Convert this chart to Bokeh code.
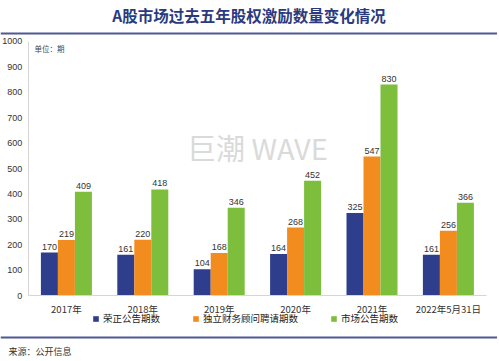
from bokeh.plotting import figure
from bokeh.models import (ColumnDataSource, Range1d, Label,
                          Legend, LegendItem, FixedTicker)
from bokeh.transform import dodge
from bokeh.core.properties import value
from bokeh.embed import file_html
from bokeh.resources import INLINE

years = ["2017年", "2018年", "2019年", "2020年", "2021年", "2022年5月31日"]
rongzheng = [170, 161, 104, 164, 325, 161]
duli = [219, 220, 168, 268, 547, 256]
shichang = [409, 418, 346, 452, 830, 366]
series_names = ["荣正公告期数", "独立财务顾问聘请期数", "市场公告期数"]
colors = ["#2E3E8C", "#F28C1F", "#7DBF3C"]
y_ticks = [0, 100, 200, 300, 400, 500, 600, 700, 800, 900, 1000]

CJK = "Noto Sans CJK SC"
RULE = "#4E5896"
W, H = 497, 357

xpos = list(range(len(years)))
src = ColumnDataSource(dict(x=xpos, a=rongzheng, b=duli, c=shichang,
                            la=[str(v) for v in rongzheng],
                            lb=[str(v) for v in duli],
                            lc=[str(v) for v in shichang]))

# frame covers the whole canvas below the title; axes are pinned inside it
p = figure(x_range=Range1d(-0.8626, 5.6427), y_range=Range1d(-242.3, 1058.1),
           width=W, height=H, output_backend="svg", toolbar_location=None,
           min_border_left=0, min_border_right=0, min_border_top=22, min_border_bottom=0,
           background_fill_color="white", border_fill_color="white", outline_line_color=None)

p.title.text = "A股市场过去五年股权激励数量变化情况"
p.title.align = "center"
p.title.text_font = CJK
p.title.text_font_size = "15.5px"
p.title.text_color = "#2B3A7E"
p.title.text_font_style = "bold"
p.title.standoff = 2

# decorative rules (below the title and above the source note)
p.hspan(y=[1030.4, -165.2], line_color=RULE, line_width=2)

keys = ["a", "b", "c"]
lkeys = ["la", "lb", "lc"]
bw = 0.2225
offsets = [-bw, 0.0, bw]
items = []
for k, lk, off, col, name in zip(keys, lkeys, offsets, colors, series_names):
    r = p.vbar(x=dodge("x", off), top=k, width=bw, source=src,
               fill_color=col, line_color=None)
    p.text(x=dodge("x", off), y=k, text=lk, source=src,
           text_align="center", text_baseline="bottom", y_offset=-3,
           text_font_size="9px", text_color="#333333", text_font=value("Liberation Sans"))
    items.append(LegendItem(label=name, renderers=[r]))

legend = Legend(items=items, orientation="horizontal", location=(92, 32),
                label_text_font=CJK, label_text_font_size="9.5px", label_text_color="#222222",
                glyph_width=7, glyph_height=7, label_standoff=4, spacing=32,
                padding=0, margin=0, label_height=10, border_line_color=None,
                background_fill_alpha=0)
p.add_layout(legend, "center")

p.xgrid.visible = False
p.ygrid.visible = False

p.yaxis.fixed_location = -0.5
p.yaxis.bounds = (0, 1000)
p.yaxis.ticker = FixedTicker(ticks=y_ticks)
p.yaxis.axis_line_color = "#D5D5D5"
p.yaxis.major_tick_line_color = None
p.yaxis.minor_tick_line_color = None
p.yaxis.major_tick_out = 0
p.yaxis.major_tick_in = 0
p.yaxis.minor_tick_out = 0
p.yaxis.major_label_text_font_size = "9px"
p.yaxis.major_label_text_color = "#333333"
p.yaxis.major_label_text_font = "Liberation Sans"
p.yaxis.major_label_standoff = 6

p.xaxis.fixed_location = 0
p.xaxis.bounds = (-0.5, len(years) - 0.5)
p.xaxis.ticker = FixedTicker(ticks=xpos)
p.xaxis.major_label_overrides = {i: y for i, y in zip(xpos, years)}
p.xaxis.axis_line_color = "#D5D5D5"
p.xaxis.major_tick_line_color = None
p.xaxis.minor_tick_line_color = None
p.xaxis.major_tick_out = 0
p.xaxis.major_tick_in = 0
p.xaxis.minor_tick_out = 0
p.xaxis.major_label_text_font_size = "9.5px"
p.xaxis.major_label_text_color = "#333333"
p.xaxis.major_label_text_font = CJK
p.xaxis.major_label_standoff = 6

# watermark
p.add_layout(Label(x=2.5, y=584, text="巨潮 WAVE", text_font=CJK, text_font_size="29px",
                   text_color="#DADADA", text_align="center", text_baseline="middle"))
# unit label
p.add_layout(Label(x=-0.418, y=995, text="单位：期", text_font=CJK, text_font_size="7.5px",
                   text_color="#444444", text_align="left", text_baseline="top"))

# source note
p.add_layout(Label(x=-0.758, y=-218.6, text="来源：公开信息", text_font=CJK, text_font_size="9px",
                   text_color="#333333", text_align="left", text_baseline="middle"))

open("out.html", "w").write(file_html(p, INLINE))
